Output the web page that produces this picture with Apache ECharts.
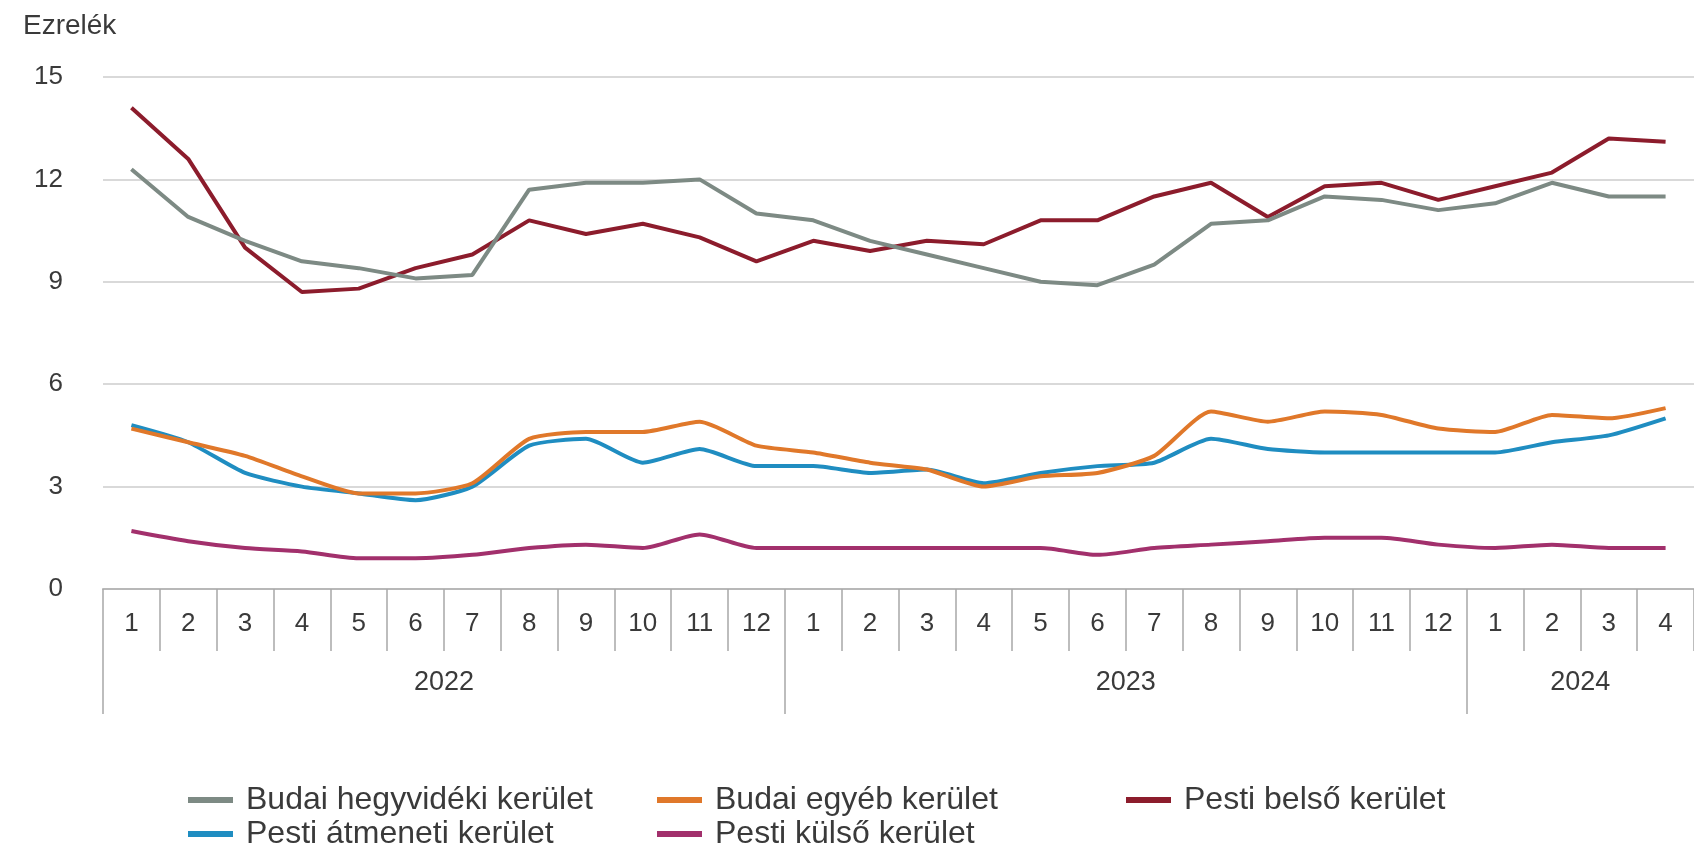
<!DOCTYPE html>
<html>
<head>
<meta charset="utf-8">
<title>Ezrelék</title>
<script src="https://cdn.jsdelivr.net/npm/echarts@6/dist/echarts.min.js"></script>
<style>
  html, body { margin: 0; padding: 0; background: #ffffff; }
  #chart { width: 1694px; height: 855px; }
</style>
</head>
<body>
<div id="chart"></div>
<script>
// Month labels (Jan 2022 – Apr 2024)
const months = ['1','2','3','4','5','6','7','8','9','10','11','12',
                '1','2','3','4','5','6','7','8','9','10','11','12',
                '1','2','3','4'];
// Years and how many months each one covers on the axis
const years = ['2022', '2023', '2024'];
const yearSpans = [12, 12, 4];

// Y axis ticks
const yTicks = [0, 3, 6, 9, 12, 15];

// Series values, per mille
const budaiHegyvideki = [12.3, 10.9, 10.2, 9.6, 9.4, 9.1, 9.2, 11.7, 11.9, 11.9, 12.0, 11.0,
                         10.8, 10.2, 9.8, 9.4, 9.0, 8.9, 9.5, 10.7, 10.8, 11.5, 11.4, 11.1,
                         11.3, 11.9, 11.5, 11.5];
const budaiEgyeb     = [4.7, 4.3, 3.9, 3.3, 2.8, 2.8, 3.1, 4.4, 4.6, 4.6, 4.9, 4.2,
                        4.0, 3.7, 3.5, 3.0, 3.3, 3.4, 3.9, 5.2, 4.9, 5.2, 5.1, 4.7,
                        4.6, 5.1, 5.0, 5.3];
const pestiBelso     = [14.1, 12.6, 10.0, 8.7, 8.8, 9.4, 9.8, 10.8, 10.4, 10.7, 10.3, 9.6,
                        10.2, 9.9, 10.2, 10.1, 10.8, 10.8, 11.5, 11.9, 10.9, 11.8, 11.9, 11.4,
                        11.8, 12.2, 13.2, 13.1];
const pestiAtmeneti  = [4.8, 4.3, 3.4, 3.0, 2.8, 2.6, 3.0, 4.2, 4.4, 3.7, 4.1, 3.6,
                        3.6, 3.4, 3.5, 3.1, 3.4, 3.6, 3.7, 4.4, 4.1, 4.0, 4.0, 4.0,
                        4.0, 4.3, 4.5, 5.0];
const pestiKulso     = [1.7, 1.4, 1.2, 1.1, 0.9, 0.9, 1.0, 1.2, 1.3, 1.2, 1.6, 1.2,
                        1.2, 1.2, 1.2, 1.2, 1.2, 1.0, 1.2, 1.3, 1.4, 1.5, 1.5, 1.3,
                        1.2, 1.3, 1.2, 1.2];

const seriesNames = ['Budai hegyvidéki kerület', 'Budai egyéb kerület', 'Pesti belső kerület',
                     'Pesti átmeneti kerület', 'Pesti külső kerület'];
const seriesData = [budaiHegyvideki, budaiEgyeb, pestiBelso, pestiAtmeneti, pestiKulso];
const seriesColors = ['#7d8a84', '#e0782a', '#8c1c2c', '#1f8dc1', '#a2306c'];
const seriesSmooth = [false, 0.2, false, 0.2, 0.25];

// Year boundaries and centres in month units for the second (year) axis row
const yearBounds = [0];
const yearCentres = [];
yearSpans.forEach((n, i) => {
  yearCentres.push(yearBounds[i] + n / 2);
  yearBounds.push(yearBounds[i] + n);
});

const FONT = '"Liberation Sans", Arial, sans-serif';
const TEXT = '#3a3a3a';

const chart = echarts.init(document.getElementById('chart'), null, { renderer: 'canvas' });

function legendFor(names, left) {
  return {
    data: names,
    orient: 'vertical',
    left: left,
    top: 784,
    padding: 0,
    itemGap: 2,
    itemWidth: 45,
    itemHeight: 6,
    icon: 'rect',
    selectedMode: false,
    textStyle: { fontFamily: FONT, fontSize: 32, color: TEXT, lineHeight: 32, padding: [0, 0, 0, 8] }
  };
}

chart.setOption({
  animation: false,
  backgroundColor: '#ffffff',
  title: {
    text: 'Ezrelék',
    left: 23,
    top: 12,
    padding: 0,
    textStyle: { fontFamily: FONT, fontSize: 28, fontWeight: 'normal', color: TEXT }
  },
  legend: [
    legendFor([seriesNames[0], seriesNames[3]], 188),
    legendFor([seriesNames[1], seriesNames[4]], 657),
    legendFor([seriesNames[2]], 1126)
  ],
  grid: { left: 103, right: 0, top: 77, bottom: 266 },
  xAxis: [
    {
      type: 'category',
      data: months,
      boundaryGap: true,
      axisLine: { show: true, lineStyle: { color: '#b8b8b8', width: 2 } },
      axisTick: { show: true, interval: 0, length: 62, lineStyle: { color: '#a8a8a8', width: 1.5 } },
      axisLabel: { interval: 0, margin: 22, fontFamily: FONT, fontSize: 26, color: TEXT },
      splitLine: { show: false }
    },
    {
      type: 'value',
      position: 'bottom',
      min: 0,
      max: yearBounds[yearBounds.length - 1],
      axisLine: { show: false },
      splitLine: { show: false },
      axisTick: { show: true, customValues: yearBounds.slice(0, -1), length: 125,
                  lineStyle: { color: '#a8a8a8', width: 1.5 } },
      axisLabel: {
        customValues: yearCentres,
        margin: 80,
        fontFamily: FONT, fontSize: 27, color: TEXT,
        formatter: v => years[yearCentres.indexOf(v)] || ''
      }
    }
  ],
  yAxis: {
    type: 'value',
    min: yTicks[0],
    max: yTicks[yTicks.length - 1],
    interval: yTicks[1] - yTicks[0],
    axisLine: { show: false },
    axisTick: { show: false },
    axisLabel: { margin: 40, fontFamily: FONT, fontSize: 26, color: TEXT },
    splitLine: { show: true, lineStyle: { color: '#d9d9d9', width: 2 } }
  },
  series: seriesNames.map((name, i) => ({
    name: name,
    type: 'line',
    xAxisIndex: 0,
    data: seriesData[i],
    smooth: seriesSmooth[i],
    symbol: 'none',
    color: seriesColors[i],
    lineStyle: { width: 4, color: seriesColors[i] },
    z: 10 - i
  }))
});
</script>
</body>
</html>
